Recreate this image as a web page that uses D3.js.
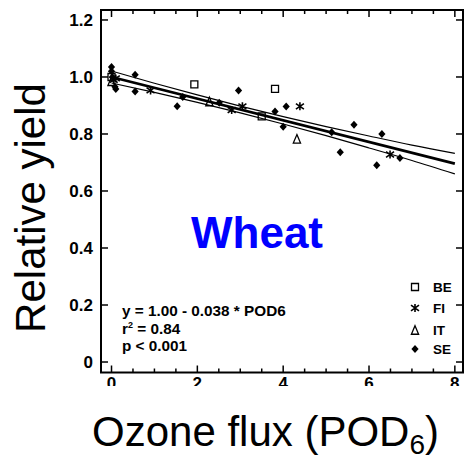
<!DOCTYPE html>
<html lang="en">
<head>
  <meta charset="UTF-8">
  <script src="https://cdn.jsdelivr.net/npm/d3@7/dist/d3.min.js"></script>
  <title>Wheat relative yield vs ozone flux</title>
  <style>
    body { margin: 0; background: white; }
    text { font-family: 'Liberation Sans', Arial, sans-serif; fill: black; }
    .tick_text { font-size: 17px; font-weight: bold; }
    .stat_text { font-size: 15.3px; font-weight: bold; }
    .legend_text { font-size: 13.5px; font-weight: bold; }
    .axis_title { font-size: 42px; }
  </style>
</head>
<body>
<div id="chart"></div>
<script>
  // data
  var countries = ["BE", "FI", "IT", "SE"];

  var beX = [0.00, 1.93, 3.50, 3.81];
  var beY = [1.000, 0.974, 0.862, 0.958];

  var fiX = [0.05, 0.10, 0.91, 2.80, 3.05, 4.39, 6.49];
  var fiY = [0.990, 0.995, 0.953, 0.884, 0.897, 0.897, 0.728];

  var itX = [0.00, 2.28, 4.32];
  var itY = [0.985, 0.914, 0.783];

  var seX = [0.00, 0.00, 0.02, 0.08, 0.10, 0.55, 0.55, 1.53, 1.66, 2.51,
             2.96, 3.81, 4.00, 4.07, 5.13, 5.33, 5.65, 6.18, 6.30, 6.72];
  var seY = [1.035, 1.020, 1.000, 0.966, 0.958, 1.008, 0.949, 0.897, 0.930, 0.910,
             0.953, 0.879, 0.825, 0.896, 0.806, 0.736, 0.832, 0.690, 0.800, 0.716];

  // fitted line y = 1.00 - 0.038 * POD6 and its confidence band
  var fitX = [0, 8];
  var fitY = [1.000, 0.696];
  var bandX = [0, 1, 2, 3, 4, 5, 6, 7, 8];
  var upperY = [1.021, 0.978, 0.937, 0.898, 0.861, 0.826, 0.793, 0.761, 0.732];
  var lowerY = [0.979, 0.946, 0.911, 0.874, 0.835, 0.794, 0.751, 0.707, 0.660];

  var xTicks = [0, 2, 4, 6, 8];
  var xMinor = d3.range(0, 8.01, 0.5);
  var yTicks = [0, 0.2, 0.4, 0.6, 0.8, 1.0, 1.2];
  var yTickLabels = ["0", "0.2", "0.4", "0.6", "0.8", "1.0", "1.2"];
  var statLines = ["y = 1.00 - 0.038 * POD6", "r2 = 0.84", "p < 0.001"];

  var W = 464, H = 460;
  var pLeft = 101, pRight = 463, pTop = 10, pBottom = 372.5;

  var x = d3.scaleLinear().domain([-0.245, 8.19]).range([pLeft, pRight]);
  var y = d3.scaleLinear().domain([-0.0368, 1.235]).range([pBottom, pTop]);

  var svg = d3.select("#chart").append("svg")
    .attr("width", W).attr("height", H);

  // custom markers
  var diamond = { draw: function(c, s) { var r = Math.sqrt(s) / 2;
      c.moveTo(0, -r); c.lineTo(r * 0.9, 0); c.lineTo(0, r); c.lineTo(-r * 0.9, 0); c.closePath(); } };
  var square = { draw: function(c, s) { var r = Math.sqrt(s) / 2;
      c.rect(-r, -r, 2 * r, 2 * r); } };
  var triangle = { draw: function(c, s) { var r = Math.sqrt(s) / 2;
      c.moveTo(0, -r); c.lineTo(r * 0.85, r); c.lineTo(-r * 0.85, r); c.closePath(); } };
  var star = { draw: function(c, s) { var r = Math.sqrt(s) / 2;
      c.moveTo(0, -r); c.lineTo(0, r);
      c.moveTo(-r, -r * 0.7); c.lineTo(r, r * 0.7);
      c.moveTo(-r, r * 0.7); c.lineTo(r, -r * 0.7); } };

  var styles = {
    BE: { sym: square, size: 49, fill: "none", stroke: "black", sw: 1.3 },
    FI: { sym: star, size: 64, fill: "none", stroke: "black", sw: 1.6 },
    IT: { sym: triangle, size: 72, fill: "none", stroke: "black", sw: 1.3 },
    SE: { sym: diamond, size: 64, fill: "black", stroke: "none", sw: 0 }
  };

  var series = [
    { name: "BE", xs: beX, ys: beY },
    { name: "FI", xs: fiX, ys: fiY },
    { name: "IT", xs: itX, ys: itY },
    { name: "SE", xs: seX, ys: seY }
  ];

  // regression + confidence lines
  var line = d3.line().x(function(d) { return x(d[0]); }).y(function(d) { return y(d[1]); });
  var lineMono = d3.line().curve(d3.curveMonotoneX)
    .x(function(d) { return x(d[0]); }).y(function(d) { return y(d[1]); });

  svg.append("path")
    .attr("d", lineMono(d3.zip(bandX, upperY)))
    .attr("fill", "none").attr("stroke", "black").attr("stroke-width", 1.2);
  svg.append("path")
    .attr("d", lineMono(d3.zip(bandX, lowerY)))
    .attr("fill", "none").attr("stroke", "black").attr("stroke-width", 1.2);
  svg.append("path")
    .attr("d", line(d3.zip(fitX, fitY)))
    .attr("fill", "none").attr("stroke", "black").attr("stroke-width", 2.6);

  // points
  series.forEach(function(s) {
    var st = styles[s.name];
    svg.append("g").selectAll("path")
      .data(d3.zip(s.xs, s.ys))
      .enter().append("path")
      .attr("transform", function(d) { return "translate(" + x(d[0]) + "," + y(d[1]) + ")"; })
      .attr("d", d3.symbol().type(st.sym).size(st.size))
      .attr("fill", st.fill).attr("stroke", st.stroke).attr("stroke-width", st.sw);
  });

  // frame
  svg.append("rect")
    .attr("x", pLeft).attr("y", pTop)
    .attr("width", pRight - pLeft).attr("height", pBottom - pTop)
    .attr("fill", "none").attr("stroke", "black").attr("stroke-width", 2);

  // ticks (inward on all four sides)
  var tickG = svg.append("g").attr("stroke", "black").attr("stroke-width", 1.5);
  xMinor.forEach(function(v) {
    var len = (v % 2 === 0) ? 7 : 4;
    tickG.append("line").attr("x1", x(v)).attr("x2", x(v)).attr("y1", pBottom).attr("y2", pBottom - len);
    tickG.append("line").attr("x1", x(v)).attr("x2", x(v)).attr("y1", pTop).attr("y2", pTop + len);
  });
  yTicks.forEach(function(v) {
    tickG.append("line").attr("x1", pLeft).attr("x2", pLeft + 7).attr("y1", y(v)).attr("y2", y(v));
    tickG.append("line").attr("x1", pRight).attr("x2", pRight - 7).attr("y1", y(v)).attr("y2", y(v));
  });

  // tick labels
  svg.append("g").selectAll("text")
    .data(yTicks).enter().append("text")
    .attr("class", "tick_text")
    .attr("x", pLeft - 8)
    .attr("y", function(d) { return y(d); })
    .attr("dy", "0.36em")
    .attr("text-anchor", "end")
    .text(function(d, i) { return yTickLabels[i]; });

  svg.append("g").selectAll("text")
    .data(xTicks).enter().append("text")
    .attr("class", "tick_text")
    .attr("x", function(d) { return x(d); })
    .attr("y", 389)
    .attr("text-anchor", "middle")
    .text(function(d) { return d; });

  // white box behind the x title (covers lower part of tick labels)
  svg.append("rect")
    .attr("x", 60).attr("y", 386).attr("width", W - 60).attr("height", H - 386)
    .attr("fill", "white");

  // axis titles
  var xt = svg.append("text")
    .attr("class", "axis_title")
    .attr("x", 92).attr("y", 446);
  xt.append("tspan").text("Ozone flux (POD");
  xt.append("tspan").attr("font-size", "28px").attr("dy", 8).text("6");
  xt.append("tspan").attr("dy", -8).text(")");

  svg.append("text")
    .attr("class", "axis_title")
    .attr("transform", "translate(45,208) rotate(-90)")
    .attr("text-anchor", "middle")
    .text("Relative yield");

  // crop label
  svg.append("text")
    .attr("x", 257).attr("y", 248)
    .attr("text-anchor", "middle")
    .style("font-size", "44px").style("font-weight", "bold")
    .style("fill", "#0000ff")
    .text("Wheat");

  // regression stats
  svg.append("text").attr("class", "stat_text")
    .attr("x", 122).attr("y", 316).text(statLines[0]);
  var r2 = svg.append("text").attr("class", "stat_text").attr("x", 122).attr("y", 334);
  r2.append("tspan").text("r");
  r2.append("tspan").attr("font-size", "9px").attr("dy", -6).text("2");
  r2.append("tspan").attr("dy", 6).text(" = 0.84");
  svg.append("text").attr("class", "stat_text")
    .attr("x", 122).attr("y", 351).text(statLines[2]);

  // legend
  var legendY = [287, 308, 330, 349];
  countries.forEach(function(c, i) {
    var st = styles[c];
    svg.append("path")
      .attr("transform", "translate(415," + legendY[i] + ")")
      .attr("d", d3.symbol().type(st.sym).size(st.size))
      .attr("fill", st.fill).attr("stroke", st.stroke).attr("stroke-width", st.sw);
    svg.append("text")
      .attr("class", "legend_text")
      .attr("x", 433).attr("y", legendY[i])
      .attr("dy", "0.36em")
      .text(c);
  });
</script>
</body>
</html>
